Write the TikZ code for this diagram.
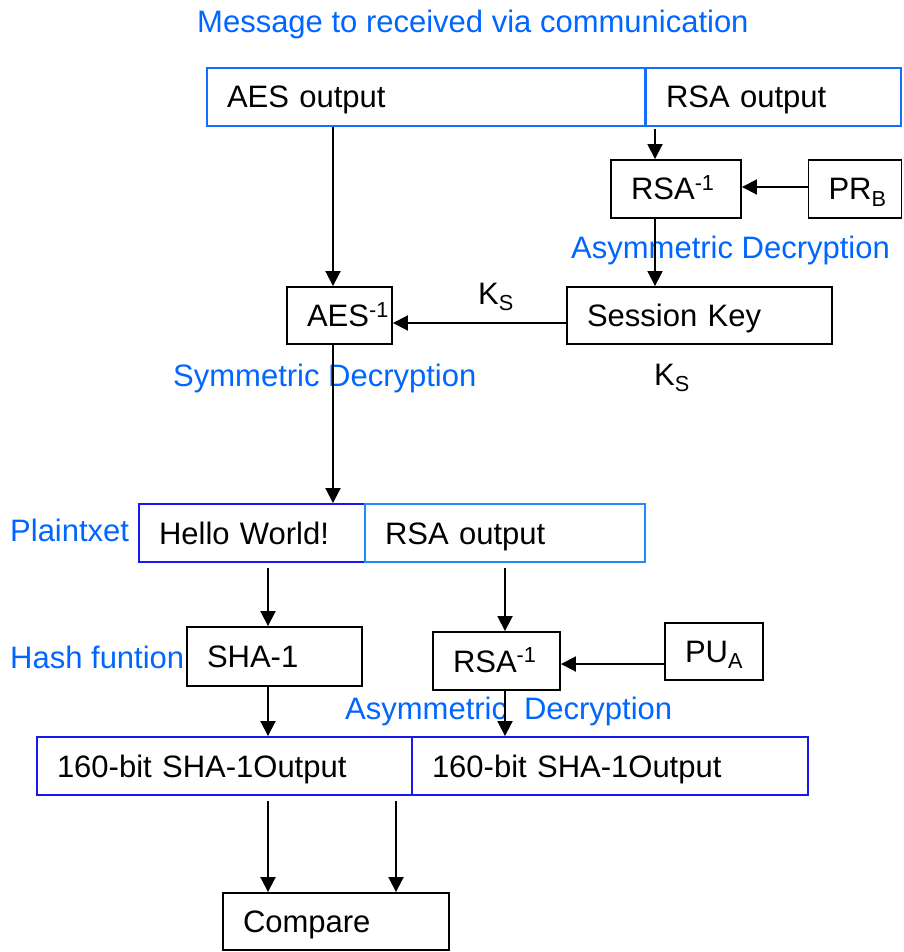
\documentclass[tikz,border=0pt]{standalone}
\usepackage{fontspec}
\setmainfont{Liberation Sans}
\usetikzlibrary{arrows.meta}
\definecolor{tblue}{RGB}{0,102,255}
\definecolor{lblue}{RGB}{20,110,255}
\definecolor{mblue}{RGB}{30,140,255}
\definecolor{dblue}{RGB}{25,25,235}
\begin{document}
\begin{tikzpicture}[x=1pt,y=-1pt,
  every node/.style={font=\fontsize{31}{37}\selectfont},
  bx/.style={draw, line width=1.9pt, inner xsep=20pt, inner ysep=0pt,
     text height=26pt, text depth=4pt, align=left, minimum height=58pt},
  lab/.style={anchor=base west, inner sep=0pt, text=tblue},
  txt/.style={anchor=base west, inner sep=0pt},
  arr/.style={line width=1.9pt, -{Triangle[length=15pt,width=15pt]}}]
\useasboundingbox (0,0) rectangle (903,952);

% labels
\node[lab] (title) at (197,33) {Message to received via communication};
\node[lab] (asym1) at (571,258) {Asymmetric Decryption};
\node[txt] (ks1) at (478,304) {K\textsubscript{S}};
\node[txt] (ks2) at (654,385) {K\textsubscript{S}};
\node[lab] (sym) at (173,386) {Symmetric Decryption};
\node[lab] (plain) at (10,541) {Plaintxet};
\node[lab] (hash) at (10,668) {Hash funtion};
\node[lab] (asym2) at (345,719) {Asymmetric\hspace{0.27em}\ Decryption};

% boxes
\node[bx, draw=lblue, text width=398pt] (aesout) at (426,97) {AES output};
\node[bx, draw=lblue, text width=215pt] (rsaout) at (773.5,97) {RSA output};
\node[bx, text width=90pt] (rsainv1) at (676,189) {RSA\textsuperscript{-1}};
\node[bx, text width=53pt] (prb) at (855,189) {PR\textsubscript{B}};
\node[bx, text width=65pt, minimum height=57pt] (aesinv) at (339.5,315.5) {AES\textsuperscript{-1}};
\node[bx, text width=225pt, minimum height=57pt] (skey) at (699.5,315.5) {Session Key};
\node[bx, draw=dblue, text width=186pt] (hello) at (252,533) {Hello World!};
\node[bx, draw=mblue, text width=240pt] (rsaout2) at (505,533) {RSA output};
\node[bx, text width=135pt, minimum height=59pt] (sha) at (274.5,656.5) {SHA-1};
\node[bx, text width=87pt] (rsainv2) at (496.5,661) {RSA\textsuperscript{-1}};
\node[bx, text width=58pt, minimum height=57pt] (pua) at (714,651.5) {PU\textsubscript{A}};
\node[bx, draw=dblue, text width=335pt] (sha1out) at (224.5,766) {160-bit SHA-1Output};
\node[bx, draw=dblue, text width=356pt] (sha2out) at (610,766) {160-bit SHA-1Output};
\node[bx, text width=186pt, minimum height=57pt] (compare) at (336,921.5) {Compare};

% connectors
\draw[arr] ([xshift=-6.5pt]aesinv.north |- aesout.south) -- ([xshift=-6.5pt]aesinv.north);
\draw[arr, shorten <=2pt] ([xshift=-21pt]rsainv1.north |- rsaout.south) -- ([xshift=-21pt]rsainv1.north);
\draw[arr] ([yshift=2pt]prb.west) -- ([yshift=2pt]rsainv1.east);
\draw[arr] ([xshift=-21pt]rsainv1.south) -- ([xshift=-21pt]rsainv1.south |- skey.north);
\draw[arr] ([yshift=-7.5pt]skey.west) -- ([yshift=-7.5pt]skey.west -| aesinv.east);
\draw[arr] ([xshift=-6.5pt]aesinv.south) -- ([xshift=-6.5pt]aesinv.south |- hello.north);
\draw[arr, shorten <=5pt] ([xshift=-6.5pt]sha.north |- hello.south) -- ([xshift=-6.5pt]sha.north);
\draw[arr, shorten <=5pt] ([xshift=8.5pt]rsainv2.north |- rsaout2.south) -- ([xshift=8.5pt]rsainv2.north);
\draw[arr] ([yshift=-3pt]rsainv2.east -| pua.west) -- ([yshift=-3pt]rsainv2.east);
\draw[arr] ([xshift=-6.5pt]sha.south) -- ([xshift=-6.5pt]sha.south |- sha1out.north);
\draw[arr] ([xshift=8.5pt]rsainv2.south) -- ([xshift=8.5pt]rsainv2.south |- sha2out.north);
\draw[arr, shorten <=5pt] ([xshift=-68pt]compare.north |- sha1out.south) -- ([xshift=-68pt]compare.north);
\draw[arr, shorten <=5pt] ([xshift=60pt]compare.north |- sha1out.south) -- ([xshift=60pt]compare.north);
\end{tikzpicture}
\end{document}
